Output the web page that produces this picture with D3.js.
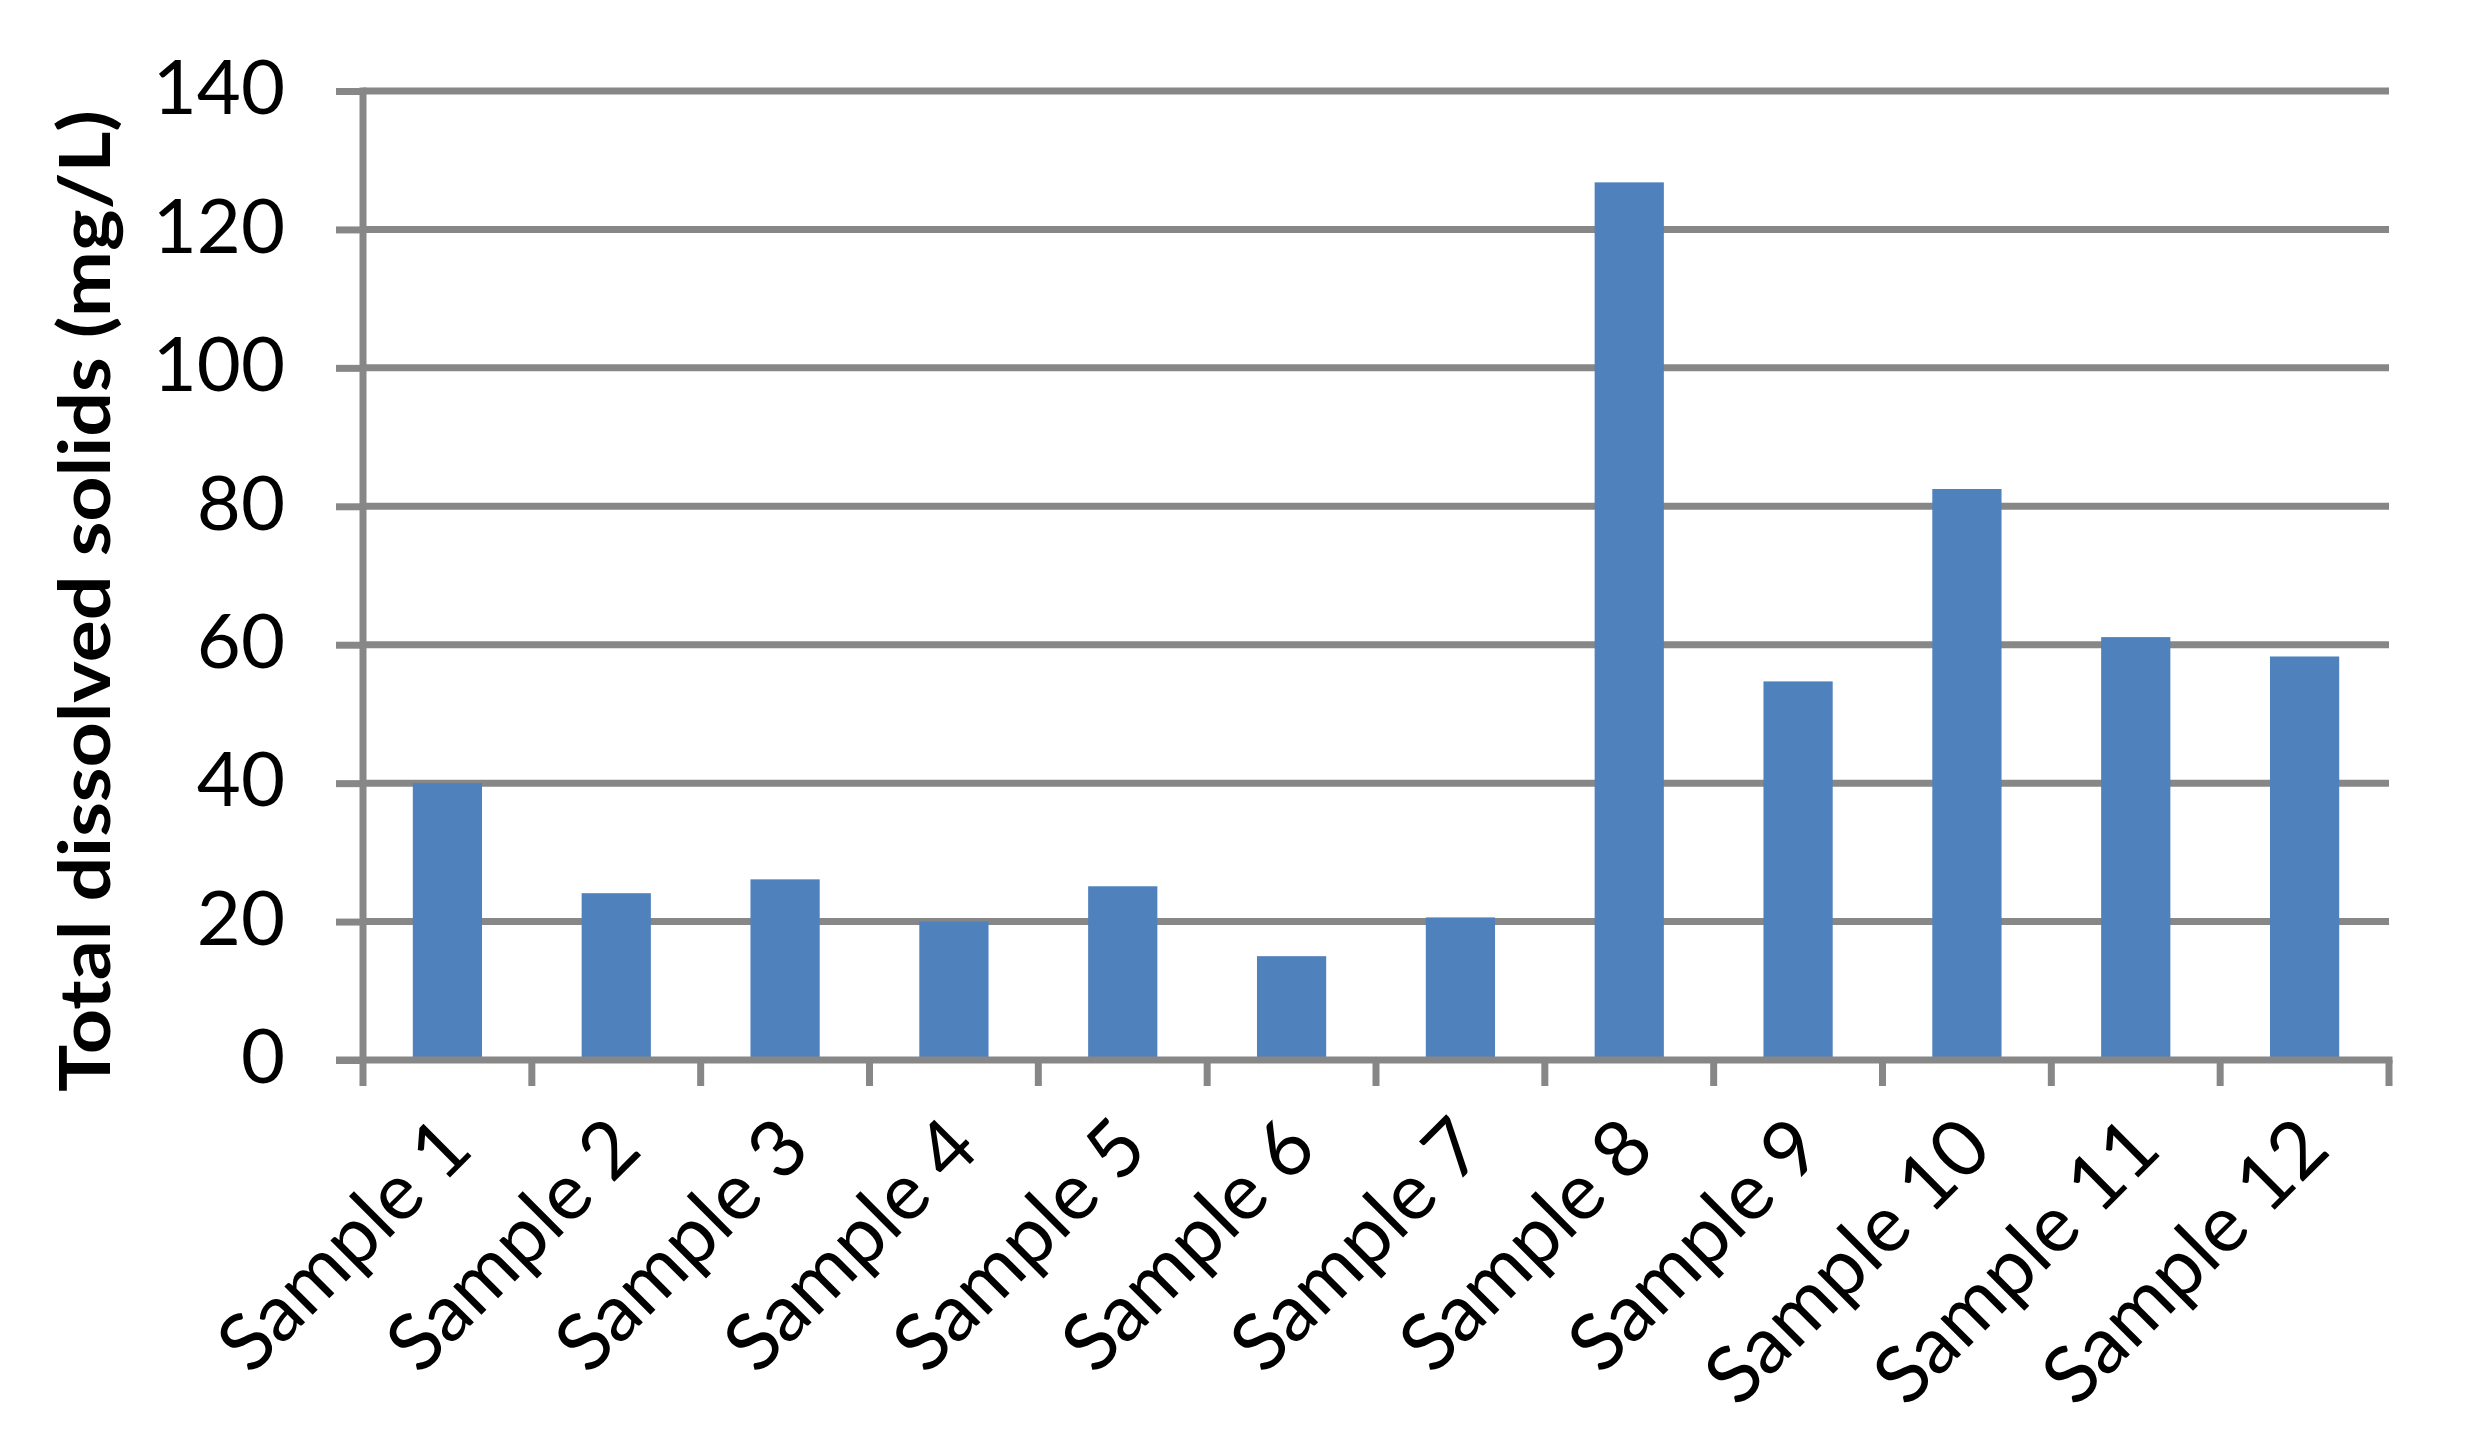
<!DOCTYPE html>
<html>
<head>
<meta charset="utf-8">
<script src="https://cdn.jsdelivr.net/npm/d3@7"></script>
<style>
  body { margin: 0; background: #fff; }
  svg { display: block; }
  svg text { font-family: Lato, "Open Sans", sans-serif; }
</style>
</head>
<body>
<svg width="2471" height="1450"></svg>
<script>
var categories = ["Sample 1", "Sample 2", "Sample 3", "Sample 4", "Sample 5", "Sample 6",
                  "Sample 7", "Sample 8", "Sample 9", "Sample 10", "Sample 11", "Sample 12"];
var tdsValues = [40, 24.1, 26.1, 20, 25.1, 15, 20.6, 126.8, 54.7, 82.5, 61.1, 58.3];
var yTicks = [0, 20, 40, 60, 80, 100, 120, 140];
var yTitle = "Total dissolved solids (mg/L)";

var svg = d3.select("svg"),
    width = +svg.attr("width"),
    height = +svg.attr("height");

var margin = {top: 91, right: 82, bottom: 390, left: 363};
var gridColor = "#878787";

var x = d3.scaleBand()
    .domain(categories)
    .range([margin.left, width - margin.right])
    .paddingInner(0.59)
    .paddingOuter(0.295);

var y = d3.scaleLinear()
    .domain([0, 140])
    .range([height - margin.bottom, margin.top]);

// left ticks + labels
var yAxis = svg.append("g")
    .attr("transform", "translate(" + margin.left + ",0)")
    .call(d3.axisLeft(y).tickValues(yTicks).tickSize(27).tickFormat(function(d){ return d; }));
yAxis.attr("font-family", null);
yAxis.select(".domain").remove();
yAxis.selectAll(".tick line").attr("stroke", gridColor).attr("stroke-width", 7);
yAxis.selectAll(".tick text")
    .attr("x", -78)
    .attr("dy", "0.3em")
    .style("font-size", "76px")
    .attr("fill", "#000");

// horizontal gridlines
svg.append("g")
    .selectAll("line")
    .data(yTicks.filter(function(d){ return d > 0; }))
    .enter().append("line")
    .attr("x1", margin.left)
    .attr("x2", width - margin.right)
    .attr("y1", function(d){ return y(d); })
    .attr("y2", function(d){ return y(d); })
    .attr("stroke", gridColor)
    .attr("stroke-width", 7);

// bars
svg.append("g")
    .selectAll("rect")
    .data(tdsValues)
    .enter().append("rect")
    .attr("x", function(d, i){ return x(categories[i]); })
    .attr("width", x.bandwidth())
    .attr("y", function(d){ return y(d); })
    .attr("height", function(d){ return y(0) - y(d); })
    .attr("fill", "#4F81BD");

// vertical axis line
svg.append("line")
    .attr("x1", margin.left).attr("x2", margin.left)
    .attr("y1", y(140) - 3.5).attr("y2", y(0))
    .attr("stroke", gridColor).attr("stroke-width", 7);

// x axis line and category boundary ticks
var step = x.step();
var bounds = d3.range(categories.length + 1).map(function(i){ return margin.left + i * step; });
svg.append("line")
    .attr("x1", margin.left - 27).attr("x2", width - margin.right + 3.5)
    .attr("y1", y(0)).attr("y2", y(0))
    .attr("stroke", gridColor).attr("stroke-width", 7);
svg.append("g")
    .selectAll("line")
    .data(bounds)
    .enter().append("line")
    .attr("x1", function(d){ return d; })
    .attr("x2", function(d){ return d; })
    .attr("y1", y(0))
    .attr("y2", y(0) + 26)
    .attr("stroke", gridColor)
    .attr("stroke-width", 7);

// rotated category labels
svg.append("g")
    .selectAll("text")
    .data(categories)
    .enter().append("text")
    .attr("transform", function(d){
        var cx = x(d) + x.bandwidth() / 2 + 28;
        return "translate(" + cx + "," + 1152 + ") rotate(-45)";
    })
    .attr("text-anchor", "end")
    .style("font-size", "79px")
    .attr("fill", "#000")
    .text(function(d){ return d; });

// y axis title
svg.append("text")
    .attr("transform", "translate(110,601) rotate(-90)")
    .attr("text-anchor", "middle")
    .attr("textLength", 982)
    .attr("lengthAdjust", "spacingAndGlyphs")
    .style("font-size", "70px")
    .style("font-weight", "bold")
    .attr("fill", "#000")
    .text(yTitle);
</script>
</body>
</html>
